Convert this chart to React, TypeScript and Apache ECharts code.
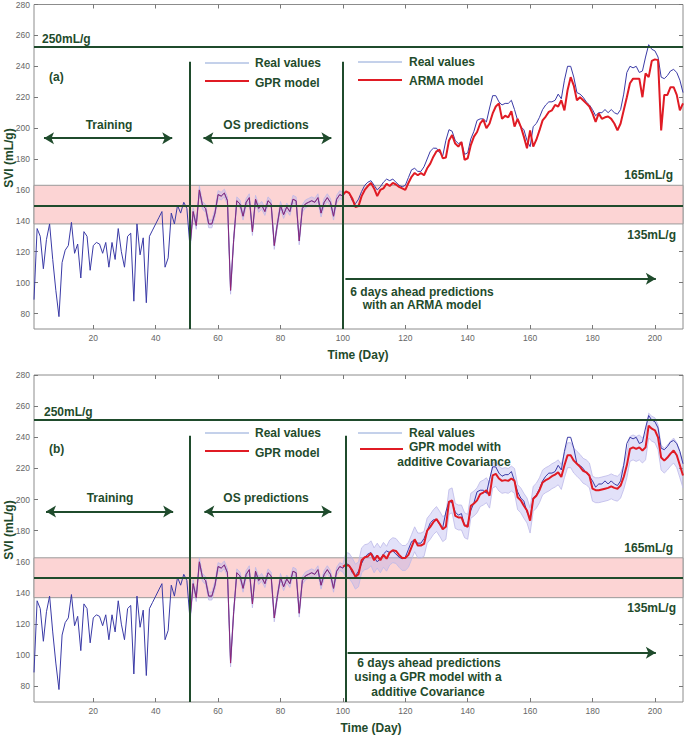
import React, { useEffect, useRef } from "react";
import * as echarts from "echarts";

// ---------- data ----------
const xTicks = [20, 40, 60, 80, 100, 120, 140, 160, 180, 200];
const yTicks = [80, 100, 120, 140, 160, 180, 200, 220, 240, 260, 280];

// measured SVI (mL/g), days 1..209
const realValues = [
  89, 135, 130, 109, 128, 138, 115, 95, 78, 113,
  121, 124, 139, 119, 125, 103, 133, 130, 108, 124,
  126, 125, 119, 126, 110, 126, 115, 135, 120, 110,
  130, 132, 88, 138, 118, 129, 87, 130, 134, 138,
  142, 146, 110, 116, 145, 138, 150, 145, 152, 148,
  123, 146, 137, 160, 150, 148, 138, 138, 145, 157,
  156, 158, 153, 95, 128, 153, 151, 143, 152, 155,
  133, 154, 148, 150, 146, 153, 151, 124, 138, 150,
  144, 149, 146, 154, 153, 127, 148, 151, 152, 153,
  152, 155, 145, 152, 155, 152, 143, 154, 157, 156,
  159, 158, 153, 151, 154, 159, 163, 165, 166, 163,
  160, 162, 165, 167, 166, 167, 165, 163, 162, 163,
  168, 173, 174, 172, 172, 175, 180, 185, 187, 187,
  184, 182, 192, 199, 198, 192, 190, 191, 183, 184,
  193, 198, 205, 206, 206, 204, 213, 221, 221, 217,
  215, 216, 216, 218, 212, 205, 201, 199, 192, 188,
  201, 203, 207, 212, 215, 217, 217, 218, 222, 219,
  231, 240, 240, 233, 223, 222, 220, 217, 215, 212,
  208, 210, 210, 212, 210, 212, 210, 209, 212, 222,
  236, 240, 239, 240, 236, 237, 246, 254, 251, 250,
  246, 233, 232, 234, 237, 238, 236, 231, 223,
];

// 6 days ahead ARMA predictions, days 100..209
const armaStart = 100;
const armaValues = [
  157, 159, 158, 154.5, 149, 149.5, 156, 160, 162.5, 164.5,
  161, 156, 160, 161, 164, 162.5, 164.5, 163.5, 162, 161,
  160, 164.5, 168.5, 171, 169.5, 171, 169.5, 174, 177, 181.5,
  185, 186, 180.5, 181, 192, 195.5, 190, 188, 191, 179.5,
  180.5, 189, 194.5, 197.5, 203, 205.5, 200, 203, 209.5, 214,
  216, 206, 208, 207, 211, 201, 206, 201, 194.5, 187,
  198.5, 188, 192.5, 198.5, 205, 207.5, 210.5, 211.5, 215, 214,
  218, 211.5, 224.5, 233, 227.5, 218, 220, 218, 216, 214,
  209.5, 204, 209.5, 206, 207, 207.5, 206, 203, 198.5, 203,
  211.5, 220, 229, 232, 232, 232, 220, 235.5, 233, 243.5,
  244.5, 244, 198.5, 221.5, 221.5, 226.5, 226.5, 221.5, 211.5, 216,
];

// 6 days ahead GPR (additive covariance) predictions, days 100..209
const gprStart = 100;
const gprValues = [
  157, 158, 157.5, 154.5, 150.5, 152, 161, 163, 163.5, 165.5,
  161, 164, 161, 164.5, 162, 166, 167.5, 167, 164.5, 162.5,
  162.5, 164.5, 169.5, 174.5, 170.5, 170.5, 171.5, 180, 182.5, 185.5,
  187.5, 184.5, 181, 182.5, 198.5, 199.5, 189.5, 188.5, 188.5, 183.5,
  182.5, 196, 197.5, 199.5, 203.5, 204.5, 206, 202.5, 215.5, 216.5,
  213.5, 212, 212.5, 212, 213.5, 212, 201.5, 199.5, 196, 193,
  186.5, 200.5, 202.5, 206, 211, 212.5, 213.5, 215, 216, 217.5,
  214.5, 222, 228.5, 228.5, 225, 223, 221, 218.5, 217.5, 215.5,
  207, 206, 206, 206.5, 207, 207.5, 208.5, 207.5, 207, 209,
  214.5, 222, 232.5, 233.5, 232.5, 233.5, 231.5, 233.5, 247.5, 245.5,
  244.5, 240, 227, 225, 227, 229.5, 231.5, 228.5, 222, 215.5,
];

// one-step-ahead (OS) GPR predictions coincide with real values on days 51..100
const osStart = 51;
const osEnd = 100;
const osBandHalf = 2.5;
const gprBandHalf = 8;

// reference lines / zones per panel: [a, b]
const tolLow = [138, 137];
const tolHigh = [163, 162.6];
const targetLine = [150, 150];
const limitLine = [252.5, 251.5];
const splitDay1 = [51, 51];
const splitDay2 = [100, 101];
const splitTop = [243, 241];
const trainArrow = [[4.2, 45.3, 193.5], [4.85, 45.6, 192.3]];
const osArrow = [[55.3, 96.3, 193.5], [55.6, 96.3, 192.3]];
const aheadArrow = [[100.8, 200.3, 102.6], [101.5, 200.3, 101.7]];

// ---------- style ----------
const DARK = "#1f4b2c";
const BLUE = "#3a3aa6";
const LEGEND_BLUE = "#8aa3d6";
const RED = "#e01b24";
const FONT = "'Liberation Sans', Arial, sans-serif";

const grids = [
  { left: 34, top: 4, width: 649, height: 325 },
  { left: 34, top: 375, width: 649, height: 327 },
];

function App() {
  const ref = useRef<HTMLDivElement>(null);

  useEffect(() => {
    if (!ref.current) return;
    const chart = echarts.init(ref.current, null, { renderer: "svg" });

    const realPairs = realValues.map((v, i) => [i + 1, v]);
    const osPairs = realPairs.slice(osStart - 1, osEnd);
    const armaPairs = armaValues.map((v, i) => [armaStart + i, v]);
    const gprPairs = gprValues.map((v, i) => [gprStart + i, v]);

    const xAxes: any[] = [];
    const yAxes: any[] = [];
    const series: any[] = [];

    const tickStyle = { lineStyle: { color: "#777", width: 1 } };

    grids.forEach((_, g) => {
      xAxes.push({
        type: "value", gridIndex: g, min: 1, max: 209, position: "bottom",
        axisLine: { show: false },
        axisTick: { show: true, inside: true, length: 4, customValues: xTicks, ...tickStyle },
        axisLabel: { customValues: xTicks, fontSize: 8.5, color: "#666", margin: 4, fontFamily: FONT },
        splitLine: { show: false },
      });
      xAxes.push({
        type: "value", gridIndex: g, min: 1, max: 209, position: "top",
        axisLine: { show: false },
        axisTick: { show: true, inside: true, length: 4, customValues: xTicks, ...tickStyle },
        axisLabel: { show: false },
        splitLine: { show: false },
      });
      yAxes.push({
        type: "value", gridIndex: g, min: 70, max: 280, position: "left",
        axisLine: { show: false },
        axisTick: { show: true, inside: true, length: 4, customValues: yTicks, ...tickStyle },
        axisLabel: { customValues: yTicks, fontSize: 8.5, color: "#666", margin: 4, fontFamily: FONT },
        splitLine: { show: false },
      });
      yAxes.push({
        type: "value", gridIndex: g, min: 70, max: 280, position: "right",
        axisLine: { show: false },
        axisTick: { show: true, inside: true, length: 4, customValues: yTicks, ...tickStyle },
        axisLabel: { show: false },
        splitLine: { show: false },
      });

      const xi = g * 2;
      const yi = g * 2;

      // confidence band (lo / hi around the model line)
      let band: number[][] = osPairs.map(([x, v]) => [x, v - osBandHalf, v + osBandHalf]);
      if (g === 1) {
        band = band.concat(gprPairs.slice(1).map(([x, v]) => [x, v - gprBandHalf, v + gprBandHalf]));
      }
      series.push({
        type: "custom", xAxisIndex: xi, yAxisIndex: yi, silent: true, z: 2,
        coordinateSystem: "cartesian2d",
        data: band,
        encode: { x: 0, y: [1, 2] },
        renderItem: (params: any, api: any) => {
          if (params.dataIndex !== 0) return null;
          const lower = band.map((b) => api.coord([b[0], b[1]]));
          const upper = band.map((b) => api.coord([b[0], b[2]]));
          return {
            type: "group",
            children: [
              {
                type: "polygon",
                shape: { points: lower.concat(upper.slice().reverse()) },
                style: { fill: "rgba(175,172,238,0.36)", stroke: "none" },
              },
              { type: "polyline", shape: { points: lower }, style: { stroke: "#bcb9e8", lineWidth: 0.8, fill: "none" } },
              { type: "polyline", shape: { points: upper }, style: { stroke: "#bcb9e8", lineWidth: 0.8, fill: "none" } },
            ],
          };
        },
      });

      const arrowLine = (a: number[], both: boolean) => [
        { coord: [a[0], a[2]], symbol: both ? "arrow" : "none" },
        { coord: [a[1], a[2]], symbol: "arrow" },
      ];

      // real values with reference marks
      series.push({
        type: "line", xAxisIndex: xi, yAxisIndex: yi, silent: true,
        symbol: "none", z: 3,
        data: realPairs,
        lineStyle: { color: BLUE, width: 1 },
        markArea: {
          silent: true, z: 1,
          itemStyle: { color: "#fcd4d4", borderColor: "#9a9a9a", borderWidth: 1 },
          data: [[{ yAxis: tolLow[g] }, { yAxis: tolHigh[g] }]],
        },
        markLine: {
          silent: true, z: 6, symbol: ["none", "none"], symbolSize: [9, 10],
          label: { show: false },
          lineStyle: { color: DARK, width: 2, type: "solid" },
          data: [
            { yAxis: limitLine[g] },
            { yAxis: targetLine[g] },
            [{ coord: [splitDay1[g], splitTop[g]] }, { coord: [splitDay1[g], 70] }],
            [{ coord: [splitDay2[g], splitTop[g]] }, { coord: [splitDay2[g], 70] }],
            arrowLine(trainArrow[g], true),
            arrowLine(osArrow[g], true),
            arrowLine(aheadArrow[g], false),
          ],
        },
      });

      // OS GPR predictions
      series.push({
        type: "line", xAxisIndex: xi, yAxisIndex: yi, silent: true,
        symbol: "none", z: 4,
        data: osPairs,
        lineStyle: { color: "#c01a5a", width: 1, opacity: 0.55 },
      });

      // 6-days-ahead predictions
      series.push({
        type: "line", xAxisIndex: xi, yAxisIndex: yi, silent: true,
        symbol: "none", z: 4,
        data: g === 0 ? armaPairs : gprPairs,
        lineStyle: { color: RED, width: 2 },
      });
    });

    const txt = (text: string, x: number, y: number, align = "left", extra: any = {}) => ({
      type: "text", x, y, silent: true, z: 100, ...extra,
      style: {
        text, fill: DARK, font: `bold 12px ${FONT}`,
        align, verticalAlign: "middle",
      },
    });
    const seg = (x1: number, y1: number, x2: number, y2: number, color: string, w: number) => ({
      type: "line", silent: true, z: 100,
      shape: { x1, y1, x2, y2 },
      style: { stroke: color, lineWidth: w },
    });

    const graphic: any[] = [
      // panel (a)
      txt("250mL/g", 42, 39),
      txt("(a)", 49, 77),
      seg(205, 63, 249, 63, LEGEND_BLUE, 1),
      txt("Real values", 255, 63),
      seg(205, 81, 249, 81, RED, 2),
      txt("GPR model", 255, 83),
      seg(358, 62, 402, 62, LEGEND_BLUE, 1),
      txt("Real values", 409, 62),
      seg(358, 80, 402, 80, RED, 2),
      txt("ARMA model", 409, 81),
      txt("Training", 109, 125, "center"),
      txt("OS predictions", 266, 125, "center"),
      txt("165mL/g", 673, 175, "right"),
      txt("135mL/g", 676, 235, "right"),
      txt("6 days ahead predictions", 422, 292, "center"),
      txt("with an ARMA model", 422, 305, "center"),
      txt("Time (Day)", 358, 355, "center"),
      txt("SVI (mL/g)", 9, 158, "center", { rotation: Math.PI / 2 }),
      // panel (b)
      txt("250mL/g", 44, 412),
      txt("(b)", 49, 449),
      seg(205, 433, 249, 433, LEGEND_BLUE, 1),
      txt("Real values", 255, 433),
      seg(205, 451, 249, 451, RED, 2),
      txt("GPR model", 255, 453),
      seg(358, 433, 402, 433, LEGEND_BLUE, 1),
      txt("Real values", 409, 433),
      seg(360, 449, 403, 449, RED, 2),
      txt("GPR model with", 409, 447),
      txt("additive Covariance", 454, 462, "center"),
      txt("Training", 110, 498, "center"),
      txt("OS predictions", 266, 498, "center"),
      txt("165mL/g", 673, 548, "right"),
      txt("135mL/g", 676, 608, "right"),
      txt("6 days ahead predictions", 429, 663, "center"),
      txt("using a GPR model with a", 428, 677, "center"),
      txt("additive Covariance", 428, 692, "center"),
      txt("Time (Day)", 371, 728, "center"),
      txt("SVI (mL/g)", 9, 530, "center", { rotation: Math.PI / 2 }),
    ];

    chart.setOption({
      animation: false,
      backgroundColor: "#ffffff",
      grid: grids.map((g) => ({ ...g, show: true, borderColor: "#8c8c8c", borderWidth: 1, backgroundColor: "transparent" })),
      xAxis: xAxes,
      yAxis: yAxes,
      series,
      graphic,
    });

    return () => chart.dispose();
  }, []);

  return (
    <div
      ref={ref}
      style={{ position: "fixed", left: 0, top: 0, width: 685, height: 736, background: "#fff" }}
    />
  );
}

export default App;
